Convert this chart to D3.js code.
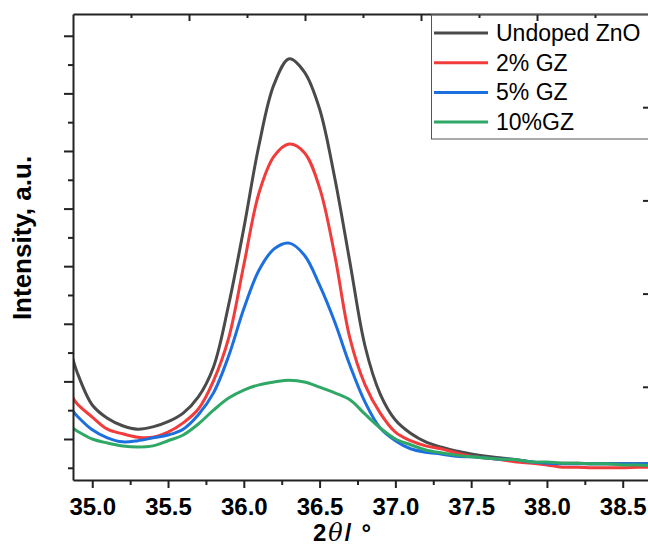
<!DOCTYPE html>
<html>
<head>
<meta charset="utf-8">
<script src="https://cdn.jsdelivr.net/npm/d3@7"></script>
<style>
body { margin: 0; background: #fff; }
text { font-family: "Liberation Sans", Arial, sans-serif; }
.tick line { stroke: #222; stroke-width: 2; }
.domain { stroke: #222; stroke-width: 2; }
</style>
</head>
<body>
<div id="main_div"></div>
<script>
// 2theta positions (deg)
var theta = [34.87, 34.9, 35.0, 35.1, 35.2, 35.3, 35.4, 35.5, 35.6, 35.7, 35.8, 35.9,
    36.0, 36.1, 36.2, 36.3, 36.4, 36.5, 36.6, 36.7, 36.8, 36.9, 37.0, 37.1, 37.2,
    37.3, 37.4, 37.5, 37.6, 37.7, 37.8, 37.9, 38.0, 38.1, 38.2, 38.3, 38.4, 38.5, 38.6, 38.7];

// intensities (a.u.)
var undoped = [241, 216, 159, 136, 123, 117, 121, 130, 145, 173, 225, 333, 466, 610, 716, 760,
    737, 673, 553, 407, 261, 178, 133, 110, 95, 86, 79, 74, 70, 67, 64, 60, 58, 58, 58, 57, 57, 57, 57, 57];
var gz2 = [173, 161, 138, 117, 109, 103, 103, 112, 128, 152, 201, 275, 402, 527, 591, 612,
    597, 536, 419, 275, 194, 145, 112, 97, 88, 83, 76, 70, 67, 64, 60, 58, 55, 51, 51, 50, 50, 50, 51, 51];
var gz5 = [149, 140, 116, 102, 95, 97, 102, 107, 117, 142, 180, 244, 326, 393, 430, 440,
    419, 367, 303, 228, 164, 119, 97, 83, 77, 74, 70, 69, 67, 65, 64, 60, 58, 57, 57, 57, 57, 57, 57, 57];
var gz10 = [119, 114, 100, 93, 88, 86, 88, 97, 107, 126, 150, 171, 185, 194, 199, 202,
    199, 190, 180, 168, 143, 119, 100, 90, 81, 76, 72, 69, 67, 65, 64, 60, 60, 58, 58, 57, 57, 55, 55, 53];

var names = ["Undoped ZnO", "2% GZ", "5% GZ", "10%GZ"];
var colors = ["#4a4a4a", "#f23b3b", "#1c6fdf", "#2fa866"];
var series = [undoped, gz2, gz5, gz10];

var x_ticks = [35.0, 35.5, 36.0, 36.5, 37.0, 37.5, 38.0, 38.5];
var x_minor = [35.25, 35.75, 36.25, 36.75, 37.25, 37.75, 38.25];
var y_ticks = [100, 200, 300, 400, 500, 600, 700, 800];
var y_minor = [50, 150, 250, 350, 450, 550, 650, 750];

var W = 648, H = 546;
var m_left = 73, m_right = 650, m_top = 14, m_bottom = 480;

var x_scale = d3.scaleLinear().domain([34.873, 38.68]).range([m_left, m_right]);
var y_scale = d3.scaleLinear().domain([28.8, 837.8]).range([m_bottom, m_top]);
// the top and right frame carry ticks of another layer
var top_scale = d3.scaleLinear().domain([0, 5]).range([m_left, m_left + 580]);
var right_scale = d3.scaleLinear().domain([0, 5]).range([m_bottom, m_top]);

var svg = d3.select("#main_div").append("svg").attr("width", W).attr("height", H);

svg.append("clipPath").attr("id", "clip").append("rect")
    .attr("x", m_left).attr("y", m_top).attr("width", m_right - m_left).attr("height", m_bottom - m_top);

var line = d3.line()
    .x(function(d, i) { return x_scale(theta[i]); })
    .y(function(d) { return y_scale(d); })
    .curve(d3.curveCatmullRom);

svg.append("g").attr("clip-path", "url(#clip)").selectAll("path").data(series).enter().append("path")
    .attr("d", line)
    .attr("fill", "none")
    .attr("stroke", function(d, i) { return colors[i]; })
    .attr("stroke-width", 3)
    .attr("stroke-linejoin", "round");

// bottom axis
var g_x = svg.append("g").attr("transform", "translate(0," + m_bottom + ")")
    .call(d3.axisBottom(x_scale).tickValues(x_ticks).tickFormat(d3.format(".1f")).tickSize(8).tickSizeOuter(0).tickPadding(10));
g_x.selectAll("text").attr("font-size", 24).attr("font-weight", "bold").attr("fill", "#000")
    .style("font-family", "'Liberation Sans', Arial, sans-serif");
svg.append("g").attr("transform", "translate(0," + m_bottom + ")")
    .call(d3.axisBottom(x_scale).tickValues(x_minor).tickFormat("").tickSize(5).tickSizeOuter(0))
    .select(".domain").remove();

// left axis
svg.append("g").attr("transform", "translate(" + m_left + ",0)")
    .call(d3.axisLeft(y_scale).tickValues(y_ticks).tickFormat("").tickSize(9).tickSizeOuter(0));
svg.append("g").attr("transform", "translate(" + m_left + ",0)")
    .call(d3.axisLeft(y_scale).tickValues(y_minor).tickFormat("").tickSize(5).tickSizeOuter(0))
    .select(".domain").remove();

// top axis, ticks inward
svg.append("g").attr("transform", "translate(0," + m_top + ")")
    .call(d3.axisBottom(top_scale).tickValues([1, 2, 3, 4, 5]).tickFormat("").tickSize(7).tickSizeOuter(0));
svg.append("g").attr("transform", "translate(0," + m_top + ")")
    .call(d3.axisBottom(top_scale).tickValues([0.5, 1.5, 2.5, 3.5, 4.5]).tickFormat("").tickSize(4).tickSizeOuter(0))
    .select(".domain").remove();

// right axis, ticks inward
svg.append("g").attr("transform", "translate(" + m_right + ",0)")
    .call(d3.axisLeft(right_scale).tickValues([1, 2, 3, 4]).tickFormat("").tickSize(7).tickSizeOuter(0));

// axis titles
svg.append("text")
    .attr("transform", "translate(31,238) rotate(-90)")
    .attr("text-anchor", "middle")
    .attr("font-size", 26).attr("font-weight", "bold")
    .text("Intensity, a.u.");

var xt = svg.append("text")
    .attr("x", 342).attr("y", 541)
    .attr("text-anchor", "middle")
    .attr("font-size", 24).attr("font-weight", "bold");
xt.append("tspan").text("2");
xt.append("tspan").attr("dx", 2).attr("font-style", "italic").attr("font-weight", "normal")
    .style("font-family", "'DejaVu Serif', serif").text("θ");
xt.append("tspan").attr("dx", 2).text("/");
xt.append("tspan").attr("dx", 10).text("°");

// legend
var lg = svg.append("g");
lg.append("rect").attr("x", 431.5).attr("y", 14.5).attr("width", 240).attr("height", 124.5)
    .attr("fill", "none").attr("stroke", "#555").attr("stroke-width", 1);
var rows = lg.selectAll("g.row").data(names).enter().append("g").attr("class", "row")
    .attr("transform", function(d, i) { return "translate(0," + (33 + i * 29.7) + ")"; });
rows.append("line").attr("x1", 434).attr("x2", 488)
    .attr("stroke", function(d, i) { return colors[i]; }).attr("stroke-width", 3);
rows.append("text").attr("x", 496).attr("dy", "0.35em").attr("font-size", 23)
    .text(function(d) { return d; });
</script>
</body>
</html>
